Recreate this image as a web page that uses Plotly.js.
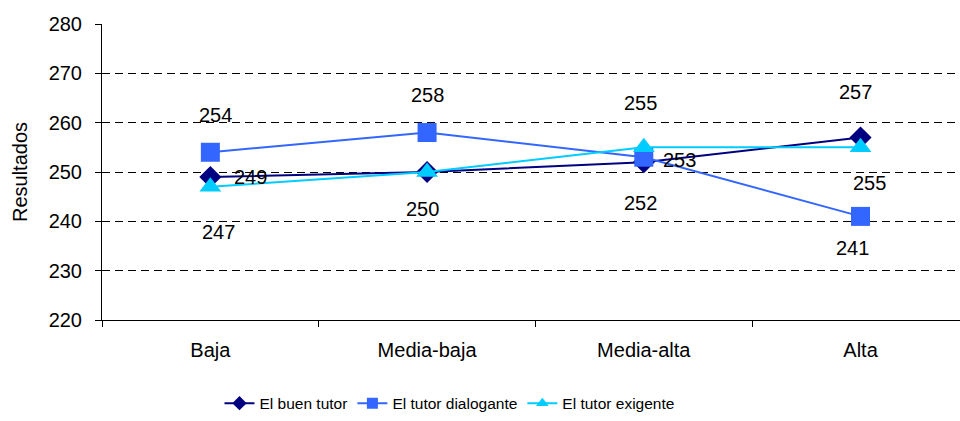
<!DOCTYPE html>
<html><head><meta charset="utf-8">
<script src="https://cdn.plot.ly/plotly-3.0.1.min.js"></script>
<style>body{margin:0;padding:0;background:#fff}#chart{width:960px;height:421px}</style>
</head><body><div id="chart"></div>
<script>
const categories = ["Baja", "Media-baja", "Media-alta", "Alta"];
const seriesNames = ["El buen tutor", "El tutor dialogante", "El tutor exigente"];
const buenTutor = [249, 250, 252, 257];
const tutorDialogante = [254, 258, 253, 241];
const tutorExigente = [247, 250, 255, 255];
const yTicks = [220, 230, 240, 250, 260, 270, 280];

const colors = ["#000080", "#3366FF", "#00CCFF"];
const symbols = ["diamond", "square", "triangle-up"];
const sizes = [17, 19, 19];
const seriesValues = [buenTutor, tutorDialogante, tutorExigente];
const FONT = "Liberation Sans, Arial, sans-serif";

// label offsets (px) per series, per category
const shifts = [
  [[40, 0], [-5, -37], [-3, -41], [-5, 45]],
  [[5, 37], [0, 38], [36, -3], [-8, -32]],
  [[8, -45], [-5, -37], [-3, 44], [9, -36]]
];

const traces = seriesValues.map((vals, i) => ({
  type: "scatter", mode: "lines+markers", name: seriesNames[i],
  x: categories, y: vals, showlegend: false,
  line: {color: colors[i], width: 2},
  marker: {symbol: symbols[i], size: sizes[i], color: colors[i]}
}));
// legend entries with smaller symbols
seriesValues.forEach((vals, i) => {
  traces.push({type: "scatter", mode: "lines+markers", name: seriesNames[i],
    x: [null], y: [null], showlegend: true,
    line: {color: colors[i], width: 2},
    marker: {symbol: symbols[i], size: 11, color: colors[i]}});
});

// one label per distinct position (coincident values share a label)
const annotations = [];
const seen = new Set();
seriesValues.forEach((vals, i) => {
  vals.forEach((v, j) => {
    const key = j + ":" + v;
    if (seen.has(key)) return;
    seen.add(key);
    annotations.push({x: categories[j], y: v, text: String(v), showarrow: false,
      xshift: shifts[i][j][0], yshift: shifts[i][j][1],
      font: {family: FONT, size: 20, color: "#000"}});
  });
});

const layout = {
  width: 960, height: 421,
  margin: {l: 102, r: 0, t: 24, b: 101},
  paper_bgcolor: "#fff", plot_bgcolor: "#fff",
  font: {family: FONT, color: "#000"},
  showlegend: true,
  legend: {orientation: "h", x: 0.405, xanchor: "center", y: -0.225, yanchor: "top",
    font: {size: 15.5}, tracegroupgap: 0},
  xaxis: {type: "category", range: [-0.5, 3.459], showline: true, linecolor: "#000", linewidth: 1,
    ticks: "outside", tickson: "boundaries", ticklen: 6, tickcolor: "#000",
    showgrid: false, zeroline: false, tickfont: {size: 20}, ticklabelstandoff: 12},
  yaxis: {range: [220, 280], tickvals: yTicks, showline: true, linecolor: "#000", linewidth: 1,
    ticks: "outside", ticklen: 6, tickcolor: "#000",
    showgrid: true, gridcolor: "#000", gridwidth: 1, griddash: "8px,5px",
    zeroline: false, tickfont: {size: 20}, ticklabelstandoff: 9,
    title: {text: "Resultados", font: {size: 20}, standoff: 15}},
  annotations: annotations
};

Plotly.newPlot("chart", traces, layout, {displayModeBar: false, staticPlot: true});
</script>
</body></html>
